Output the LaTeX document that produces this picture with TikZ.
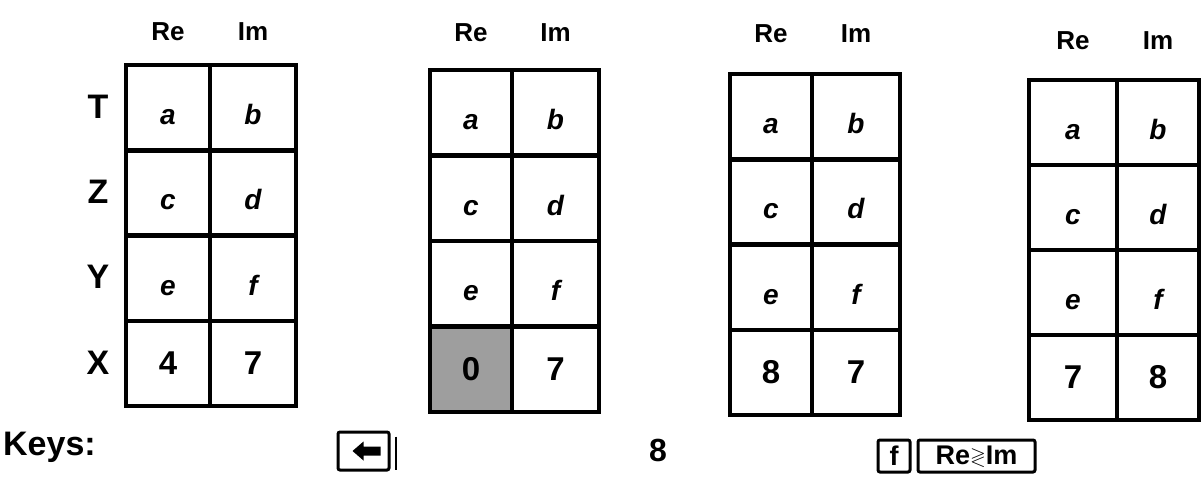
\documentclass[tikz,border=0pt]{standalone}
\usepackage{fontspec}
\usepackage{amssymb}
\setmainfont{Liberation Sans}
\tikzset{
  cell/.style={draw=black, line width=4.5pt, inner sep=0pt},
  lettertxt/.style={font=\fontsize{28}{28}\selectfont\bfseries\itshape, text height=34pt, text depth=0pt},
  digittxt/.style={font=\fontsize{33}{33}\selectfont\bfseries},
  hdr/.style={font=\fontsize{26}{26}\selectfont\bfseries, inner sep=0pt},
  reglabel/.style={font=\fontsize{34}{34}\selectfont\bfseries, inner sep=0pt},
  keybox/.style={draw=black, line width=3pt, rounded corners=2pt, inner sep=0pt},
  keytxt/.style={font=\fontsize{27}{27}\selectfont\bfseries},
  shaded/.style={fill=black!38}
}
\newcommand\regstack[9]{%
  \pgfmathsetmacro\wA{#3-#2}%
  \pgfmathsetmacro\wB{#4-#3}%
  \pgfmathsetmacro\rH{(#6-#5)/4}%
  \pgfmathsetmacro\cA{(#2+#3)/2}%
  \pgfmathsetmacro\cB{(#3+#4)/2}%
  \foreach \i/\lA/\lB in {0/a/b,1/c/d,2/e/f}{%
    \node[cell, lettertxt, minimum width=\wA, minimum height=\rH] (#1-\i-re) at (\cA,{#5+(\i+0.5)*\rH}) {\lA};
    \node[cell, lettertxt, minimum width=\wB, minimum height=\rH] (#1-\i-im) at (\cB,{#5+(\i+0.5)*\rH}) {\lB};
  }
  \node[cell, digittxt, minimum width=\wA, minimum height=\rH, #9] (#1-3-re) at (\cA,{#5+3.5*\rH}) {#7};
  \node[cell, digittxt, minimum width=\wB, minimum height=\rH] (#1-3-im) at (\cB,{#5+3.5*\rH}) {#8};
  \node[hdr] (#1-hre) at (\cA,\hY) {Re};
  \node[hdr] (#1-him) at (\cB,\hY) {Im};
}
\begin{document}
\begin{tikzpicture}[x=1pt,y=-1pt]
\useasboundingbox (0,0) rectangle (1203,477);
\fill[white] (0,0) rectangle (1203,477);

\def\hY{32}
\regstack{s1}{126}{210}{296}{65}{406}{4}{7}{}
\def\hY{33}
\regstack{s2}{430}{512}{599}{70}{412}{0}{7}{shaded}
\def\hY{34}
\regstack{s3}{730}{812}{900}{74}{415}{8}{7}{}
\def\hY{41}
\regstack{s4}{1029}{1117}{1199}{80}{420}{7}{8}{}

% register labels
\node[reglabel] (lT) at (98,107) {T};
\node[reglabel] (lZ) at (98,192) {Z};
\node[reglabel] (lY) at (98,277) {Y};
\node[reglabel] (lX) at (98,363) {X};

% keys row
\node[font=\fontsize{34}{34}\selectfont\bfseries, anchor=west, inner sep=0pt] (keys) at (3,447) {Keys:};

\node[keybox, minimum width=51, minimum height=38] (kback) at (363.5,451) {};
\fill[shift={(kback.center)}] (-11,0) -- (0,-9.5) -- (0,-4.5) -- (17,-4.5) -- (17,4.5) -- (0,4.5) -- (0,9.5) -- cycle;
\coordinate (kbs1) at ([xshift=5pt,yshift=-6pt]kback.north east);
\coordinate (kbs2) at ([xshift=5pt,yshift=2pt]kback.south east);
\draw[line width=2pt] (kbs1) -- (kbs2);

\node[font=\fontsize{32}{32}\selectfont\bfseries, inner sep=0pt] (keight) at (658,450) {8};

\node[keybox, keytxt, minimum width=32, minimum height=32] (kf) at (894,456) {f};
\node[keybox, keytxt, minimum width=117, minimum height=32] (kreim) at (976.5,456) {Re\raisebox{1.5pt}{\scalebox{0.75}{$\gtrless$}}Im};
\end{tikzpicture}
\end{document}
